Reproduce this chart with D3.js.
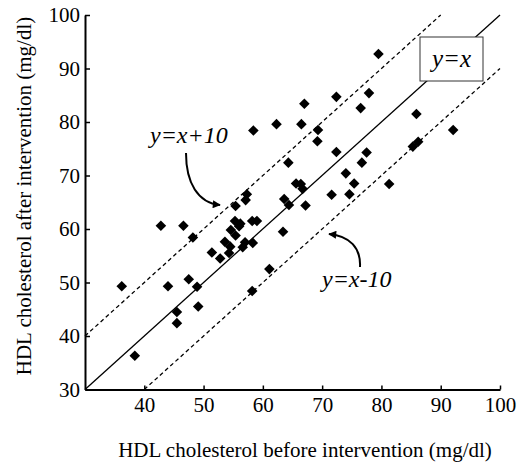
<!DOCTYPE html>
<html>
<head>
<meta charset="utf-8">
<script src="https://cdn.jsdelivr.net/npm/d3@7"></script>
<style>
  @font-face { font-family: 'ChartSerif'; font-style: normal; src: local('Liberation Serif'), local('LiberationSerif'), local('LiberationSerif-Regular'); }
  @font-face { font-family: 'ChartSerif'; font-style: italic; src: local('Liberation Serif Italic'), local('LiberationSerif-Italic'); }
</style>
</head>
<body style="margin:0">
<svg id="fig" width="526" height="465"></svg>
<script>
// HDL cholesterol, mg/dl: one entry per subject
const before = [36.2, 38.4, 42.8, 44.0, 45.5, 45.5, 46.6, 48.2, 47.5, 48.9, 49.1, 51.4, 52.8, 53.6, 54.5,
  54.3, 55.3, 56.0, 54.6, 55.4, 56.2, 55.4, 57.3, 57.1, 58.2, 59.0, 57.0, 56.6, 58.3, 58.4, 58.2,
  61.1, 62.3, 63.4, 63.6, 64.4, 67.2, 65.6, 66.4, 66.7, 64.3, 67.0, 66.5, 69.3, 69.2, 71.6, 72.4,
  72.4, 74.0, 74.6, 75.4, 76.7, 76.5, 77.5, 77.9, 79.5, 81.3, 85.9, 85.3, 86.2, 92.1];
const after = [49.3, 36.3, 60.6, 49.3, 44.5, 42.4, 60.6, 58.4, 50.6, 49.2, 45.5, 55.6, 54.5, 57.6, 56.7,
  55.5, 61.5, 60.5, 59.8, 58.8, 61.0, 64.3, 66.5, 65.4, 61.5, 61.5, 57.5, 56.6, 57.4, 78.4, 48.4,
  52.5, 79.6, 59.5, 65.6, 64.5, 64.4, 68.5, 68.4, 67.5, 72.4, 83.4, 79.6, 78.5, 76.4, 66.4, 84.7,
  74.4, 70.4, 66.5, 68.5, 72.4, 82.6, 74.3, 85.4, 92.7, 68.4, 81.5, 75.4, 76.3, 78.5];

const xTicks = [40, 50, 60, 70, 80, 90, 100];
const yTicks = [30, 40, 50, 60, 70, 80, 90, 100];

// reference lines y = x + offset, drawn over [x0, x1]
const refLines = [
  { offset: 0, x0: 30, x1: 100, dashed: false },
  { offset: 10, x0: 30, x1: 90, dashed: true },
  { offset: -10, x0: 40, x1: 100, dashed: true },
];

// label text, position (baseline) and size
const labels = [
  { text: 'y=x', x: 451.5, y: 67, size: 25, anchor: 'middle' },
  { text: 'y=x+10', x: 150, y: 143, size: 24, anchor: 'start' },
  { text: 'y=x-10', x: 322, y: 287, size: 24, anchor: 'start' },
];

const FONT = "'Liberation Serif', ChartSerif, Tinos, 'Times New Roman', serif";

const svg = d3.select('#fig');
const x = d3.scaleLinear().domain([30, 100]).range([85, 500]);
const y = d3.scaleLinear().domain([30, 100]).range([389.5, 15]);

const points = before.map((b, i) => ({ b, a: after[i] }));

const serifText = (sel, size, italic) => sel
  .attr('font-family', FONT)
  .attr('font-size', size)
  .attr('font-style', italic ? 'italic' : null)
  .attr('fill', '#000');

function draw() {
  svg.selectAll('*').remove();

  // text first, so the serif face is the first one the page lays out
  const textLayer = svg.append('g');

  // arrow head
  svg.append('defs')
    .append('marker')
    .attr('id', 'head')
    .attr('viewBox', '0 0 10 10')
    .attr('refX', 9)
    .attr('refY', 5)
    .attr('markerWidth', 5)
    .attr('markerHeight', 4)
    .attr('markerUnits', 'strokeWidth')
    .attr('orient', 'auto')
    .append('path')
    .attr('d', 'M0,0 L10,5 L0,10 Z')
    .attr('fill', '#000');

  // reference lines
  svg.append('g')
    .selectAll('line')
    .data(refLines)
    .join('line')
    .attr('x1', d => x(d.x0))
    .attr('y1', d => y(d.x0 + d.offset))
    .attr('x2', d => x(d.x1))
    .attr('y2', d => y(d.x1 + d.offset))
    .attr('stroke', '#000')
    .attr('stroke-width', 1.3)
    .attr('stroke-dasharray', d => d.dashed ? '4,3' : null);

  // points
  svg.append('g')
    .selectAll('path')
    .data(points)
    .join('path')
    .attr('d', d3.symbol(d3.symbolSquare, 56))
    .attr('transform', d => `translate(${x(d.b)},${y(d.a)}) rotate(45)`)
    .attr('fill', '#000');

  // axes
  const xAxis = svg.append('g')
    .attr('transform', `translate(0,${y(30)})`)
    .call(d3.axisBottom(x).tickValues(xTicks).tickSizeInner(-4).tickSizeOuter(0).tickPadding(8));
  const yAxis = svg.append('g')
    .attr('transform', `translate(${x(30)},0)`)
    .call(d3.axisLeft(y).tickValues(yTicks).tickSizeInner(-5).tickSizeOuter(0).tickPadding(5));

  [xAxis, yAxis].forEach(g => {
    g.attr('font-family', FONT).attr('font-size', 21);
    g.select('.domain').attr('stroke-width', 2);
    g.selectAll('.tick line').attr('stroke-width', 1.5);
    g.selectAll('.tick text').call(serifText, 21, false);
  });

  // axis titles
  textLayer.append('text')
    .attr('x', 305)
    .attr('y', 457)
    .attr('text-anchor', 'middle')
    .call(serifText, 21, false)
    .text('HDL cholesterol before intervention (mg/dl)');

  textLayer.append('text')
    .attr('transform', 'translate(31,196) rotate(-90)')
    .attr('text-anchor', 'middle')
    .call(serifText, 21, false)
    .text('HDL cholesterol after intervention (mg/dl)');

  // y=x label box
  svg.append('rect')
    .attr('x', 420)
    .attr('y', 37)
    .attr('width', 63)
    .attr('height', 44)
    .attr('fill', '#fff')
    .attr('stroke', '#333')
    .attr('stroke-width', 1);

  svg.append('g')
    .selectAll('text')
    .data(labels)
    .join('text')
    .attr('x', d => d.x)
    .attr('y', d => d.y)
    .attr('text-anchor', d => d.anchor)
    .each(function(d) { d3.select(this).call(serifText, d.size, true); })
    .text(d => d.text);

  // curved arrows pointing at the offset lines
  const arrows = [
    'M186,153 C186,183 198,203 220,205',
    'M360,267 C361,248 350,236 329,234',
  ];
  svg.append('g')
    .selectAll('path')
    .data(arrows)
    .join('path')
    .attr('d', d => d)
    .attr('fill', 'none')
    .attr('stroke', '#000')
    .attr('stroke-width', 2)
    .attr('marker-end', 'url(#head)');
}

draw();
if (document.fonts) {
  Promise.all([
    document.fonts.load("21px ChartSerif"),
    document.fonts.load("italic 24px ChartSerif"),
  ]).then(draw, draw);
}
</script>
</body>
</html>
